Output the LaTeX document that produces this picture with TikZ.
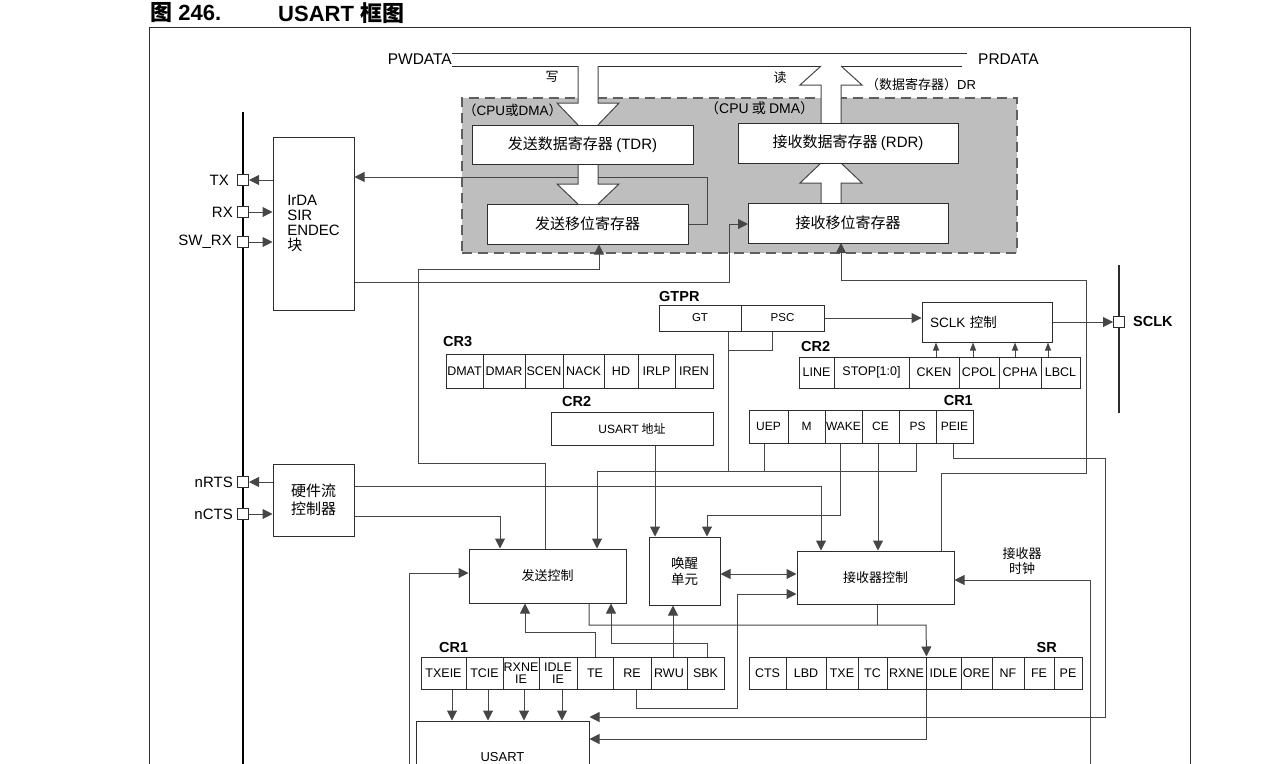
\documentclass[tikz,border=0pt]{standalone}
\usepackage{fontspec}
\setmainfont{Liberation Sans}
\newfontfamily\zh{Noto Sans CJK SC}
\usetikzlibrary{arrows.meta}
\definecolor{linec}{RGB}{45,45,45}
\definecolor{wirec}{RGB}{70,70,70}
\definecolor{shadec}{RGB}{190,190,190}
\definecolor{dashc}{RGB}{95,95,95}
\newcommand\fsz[1]{\fontsize{#1}{#1}\selectfont}
\tikzset{
  box/.style={draw=linec, fill=white, line width=1pt, inner sep=0pt, font=\zh\fsz{13}},
  cell/.style={draw=linec, fill=white, line width=1pt, inner sep=0pt, align=center, font=\fsz{12.5}},
  wire/.style={draw=wirec, line width=1pt},
  arr/.style={wire, -{Triangle[length=10pt,width=10pt]}},
  biarr/.style={wire, {Triangle[length=10pt,width=10pt]}-{Triangle[length=10pt,width=10pt]}},
  tick/.style={wire, -{Triangle[length=8pt,width=6pt]}},
  pad/.style={draw=linec, fill=white, line width=1pt, minimum size=11pt, inner sep=0pt},
  reg/.style={font=\bfseries\fsz{14.5}, inner sep=0pt},
  hollow/.style={draw=wirec, line width=1pt},
}

\begin{document}
\begin{tikzpicture}[x=1pt, y=-1pt]
  \useasboundingbox (0,0) rectangle (1279,763);
  % title, frame, buses
  \node[anchor=west, inner sep=0, font=\bfseries\fsz{22}] (fig) at (150,13) {{\zh 图} 246.};
  \node[anchor=west, inner sep=0, font=\bfseries\fsz{22}] (title) at (278,13) {USART {\zh 框图}};
  \draw[linec, line width=1pt] (149,770) -- (149,27) -- (1190,27) -- (1190,770);
  \draw[linec, line width=1pt] (452,53) -- (967,53);
  \draw[linec, line width=1pt] (452,66) -- (578,66) (598,66) -- (821,66) (841,66) -- (962,66);
  \node[anchor=east, inner sep=0, font=\fsz{15.5}] (pw) at (452,59) {PWDATA};
  \node[anchor=west, inner sep=0, font=\fsz{15.5}] (pr) at (978,59) {PRDATA};
  \draw[black, line width=2.5pt] (243,112) -- (243,770);
  \draw[linec, line width=1.5pt] (1119,265) -- (1119,413);

  \node[draw=dashc, fill=shadec, line width=1.5pt, dash pattern=on 10pt off 6pt,
        minimum width=555pt, minimum height=155pt, inner sep=0] (dma) at (739.5,175.5) {};
  \node[anchor=west, inner sep=0, font=\zh\fsz{13.5}] (cpul) at (463,110) {（{\rmfamily CPU}或{\rmfamily DMA}）};
  \node[anchor=west, inner sep=0, font=\zh\fsz{14}] (cpur) at (705,108) {（{\rmfamily CPU} 或 {\rmfamily DMA}）};
  \node[inner sep=0, font=\zh\fsz{13}] (wr) at (552,77) {写};
  \node[inner sep=0, font=\zh\fsz{13}] (rd) at (780,78) {读};
  \node[anchor=west, inner sep=0, font=\zh\fsz{13}] (drl) at (866,85) {（数据寄存器）{\rmfamily DR}};

  % boxes
  \node[box, font=\fsz{15}, align=left, minimum width=81pt, minimum height=173pt] (irda) at (313.5,223.5) {IrDA\\SIR\\ENDEC\\{\zh 块}};
  \node[box, font=\zh\fontsize{15}{18}\selectfont, align=center, minimum width=81pt, minimum height=72pt] (hfc) at (313.5,500) {硬件流\\控制器};
  \node[box, minimum width=157pt, minimum height=54pt] (txc) at (547.5,576) {发送控制};
  \node[box, font=\zh\fontsize{13.5}{16}\selectfont, align=center, minimum width=71pt, minimum height=68pt] (wu) at (684.5,571) {唤醒\\单元};
  \node[box, minimum width=157pt, minimum height=53pt] (rxc) at (875.5,577.5) {接收器控制};
  \node[box, font=\zh\fsz{12}, minimum width=162pt, minimum height=33pt] (addr) at (632,428.5) {{\rmfamily USART} 地址};
  \node[box, font=\zh\fsz{13.5}, minimum width=130pt, minimum height=40pt, text width=114pt, align=left] (sclkc) at (987,322) {{\rmfamily SCLK} 控制};
  \node[box, font=\fsz{13}, minimum width=173pt, minimum height=72pt] (usart) at (502.5,757) {USART};
  \node[box, font=\zh\fsz{15}, minimum width=201pt, minimum height=40pt] (tsr) at (587.5,224) {发送移位寄存器};
  \node[inner sep=0, font=\zh\fontsize{13}{15}\selectfont, align=center] (clkl) at (1022,561) {接收器\\时钟};

  % registers
  \foreach \a/\b/\n/\t in {446/483/dmat/DMAT, 483/525/dmar/DMAR, 525/563/scen/SCEN, 563/604/nack/NACK,
      604/638/hd/HD, 638/675/irlp/IRLP, 675/713/iren/IREN}
    \node[cell, minimum width={(\b-\a)*1pt}, minimum height=34pt] (\n) at ({(\a+\b)/2},371) {\t};
  \foreach \a/\b/\n/\t in {659/741/gt/GT, 741/824/psc/PSC}
    \node[cell, font=\fsz{11.5}, minimum width={(\b-\a)*1pt}, minimum height=26pt] (\n) at ({(\a+\b)/2},318) {\t};
  \foreach \a/\b/\n/\t in {799/834/line/LINE, 834/909/stop/{STOP[1:0]}, 909/959/cken/CKEN,
      959/999/cpol/CPOL, 999/1041/cpha/CPHA, 1041/1080/lbcl/LBCL}
    \node[cell, minimum width={(\b-\a)*1pt}, minimum height=31pt] (\n) at ({(\a+\b)/2},372.5) {\t};
  \foreach \a/\b/\n/\t in {749/788/uep/UEP, 788/825/m/M, 825/862/wake/WAKE, 862/899/ce/CE,
      899/936/ps/PS, 936/973/peie/PEIE}
    \node[cell, font=\fsz{12}, minimum width={(\b-\a)*1pt}, minimum height=33pt] (\n) at ({(\a+\b)/2},426.5) {\t};
  \foreach \a/\b/\n/\t in {421/466/txeie/TXEIE, 466/503/tcie/TCIE, 503/539/rxneie/{RXNE\\IE},
      539/577/idleie/{IDLE\\IE}, 577/613/te/TE, 613/651/re/RE, 651/687/rwu/RWU, 687/724/sbk/SBK}
    \node[cell, minimum width={(\b-\a)*1pt}, minimum height=32pt] (\n) at ({(\a+\b)/2},673) {\t};
  \foreach \a/\b/\n/\t in {749/786/cts/CTS, 786/826/lbd/LBD, 826/858/txe/TXE, 858/887/tc/TC,
      887/926/rxne/RXNE, 926/961/idle/IDLE, 961/992/ore/ORE, 992/1024/nf/NF, 1024/1054/fe/FE, 1054/1082/pe/PE}
    \node[cell, minimum width={(\b-\a)*1pt}, minimum height=32pt] (sr-\n) at ({(\a+\b)/2},673) {\t};
  \node[reg, anchor=west] (cr3l) at (443,342) {CR3};
  \node[reg, anchor=west] (gtprl) at (659,297) {GTPR};
  \node[reg, anchor=west] (cr2l) at (562,402) {CR2};
  \node[reg, anchor=west] (cr2rl) at (801,347) {CR2};
  \node[reg, anchor=east] (cr1ul) at (973,401) {CR1};
  \node[reg, anchor=west] (cr1ll) at (439,647) {CR1};
  \node[reg, anchor=east] (srl) at (1057,647) {SR};

  % pins
  \foreach \n/\y/\t/\xe in {tx/180/TX/229, rx/212/RX/233, sw/242/SW\_RX/232, rts/482/nRTS/233, cts/514/nCTS/233} {
    \node[pad] (\n-pin) at (243,\y) {};
    \node[anchor=east, inner sep=0, font=\fsz{15}] (\n-lbl) at (\xe,\y) {\t};
  }
  \node[pad] (sclk-pin) at (1119,322) {};
  \node[anchor=west, font=\bfseries\fsz{14.5}, inner sep=0] (sclkl) at (1133,322) {SCLK};

  % wires
  \draw[arr] (irda.west |- tx-pin) -- (tx-pin.east);
  \draw[arr] (rx-pin.east) -- (irda.west |- rx-pin);
  \draw[arr] (sw-pin.east) -- (irda.west |- sw-pin);
  \draw[arr] (hfc.west |- rts-pin) -- (rts-pin.east);
  \draw[arr] (cts-pin.east) -- (hfc.west |- cts-pin);
  \draw[arr] (tsr.east) -- ++(19,0) |- (irda.east |- 0,177);
  \draw[arr] (irda.east |- 0,282) -| (729,224) -- (748,224);
  \draw[arr] (txc.north -| 545,0) |- (418,463) |- (599,269) -- (599,0 |- tsr.south);
  \draw[arr] (rxc.north -| 941,0) |- (1086,473) |- (841,280) -- (841,243);
  \draw[wire] (gt.south -| 728,0) -- (728,471);
  \draw[wire] (psc.south -| 772,0) |- (728,350);
  \draw[wire] (uep.south -| 764,0) -- (764,471);
  \draw[arr] (ps.south -| 916,0) |- (597,471) -- (597,0 |- txc.north);
  \draw[arr] (addr.south -| 655,0) -- (655,0 |- wu.north);
  \draw[arr] (wake.south -| 840,0) |- (707,515) -- (707,0 |- wu.north);
  \draw[arr] (ce.south -| 878,0) -- (878,0 |- rxc.north);
  \draw[arr] (hfc.east |- 0,486) -| (rxc.north -| 821,0);
  \draw[arr] (hfc.east |- 0,516) -| (txc.north -| 500,0);
  \draw[biarr] (wu.east |- 0,574) -- (rxc.west |- 0,574);
  \draw[arr] (re.south -| 636,0) |- (737,708) |- (rxc.west |- 0,594);
  \draw[wire] (rxc.south -| 877,0) -- (877,625);
  \draw[arr] (txc.south -| 589,0) |- (926,625) -- (sr-rxne.north east);
  \draw[arr] (sr-rxne.south east) |- (usart.east |- 0,739);
  \draw[arr] (peie.south -| 953,0) |- (1105,458) |- (usart.east |- 0,717);
  \coordinate (rxclk) at (1090,770);
  \draw[arr] (rxclk) |- (rxc.east |- 0,580);
  \coordinate (txin) at (409,770);
  \draw[arr] (txin) |- (txc.west |- 0,573);
  \draw[arr] (te.north -| 595,0) |- (525,632) -- (525,0 |- txc.south);
  \draw[arr] (sbk.north -| 707,0) |- (611,643) -- (611,0 |- txc.south);
  \draw[arr] (rwu.north -| 673,0) -- (673,0 |- wu.south);
  \foreach \x in {452,488,524,562} \draw[arr] (\x,0 |- txeie.south) -- (\x,0 |- usart.north);
  \draw[arr] (psc.east) -- (sclkc.west |- psc.east);
  \draw[arr] (sclkc.east) -- (sclk-pin.west);
  \foreach \x in {936,973,1015,1048} \draw[tick] (\x,0 |- cken.north) -- (\x,0 |- sclkc.south);

  % hollow data arrows
  \foreach \xl/\ya/\yb/\yc in {578/66/103/125, 578/164/184/204, 821/123/85/66, 821/203/183/163} {
    \fill[white] (\xl,\ya) -- (\xl,\yb) -- ({\xl-21},\yb) -- (\xl,\yc) -- ({\xl+20},\yc)
      -- ({\xl+41},\yb) -- ({\xl+20},\yb) -- ({\xl+20},\ya) -- cycle;
    \draw[hollow] (\xl,\ya) -- (\xl,\yb) -- ({\xl-21},\yb) -- (\xl,\yc)
      ({\xl+20},\yc) -- ({\xl+41},\yb) -- ({\xl+20},\yb) -- ({\xl+20},\ya);
  }
  \node[box, font=\zh\fsz{15}, minimum width=221pt, minimum height=39pt] (tdr) at (582.5,144.5) {发送数据寄存器 {\rmfamily (TDR)}};
  \node[box, font=\zh\fsz{15}, minimum width=220pt, minimum height=40pt] (rdr) at (848,143) {接收数据寄存器 {\rmfamily (RDR)}};
  \node[box, font=\zh\fsz{15}, minimum width=200pt, minimum height=40pt] (rsr) at (848,223) {接收移位寄存器};
\end{tikzpicture}
\end{document}
